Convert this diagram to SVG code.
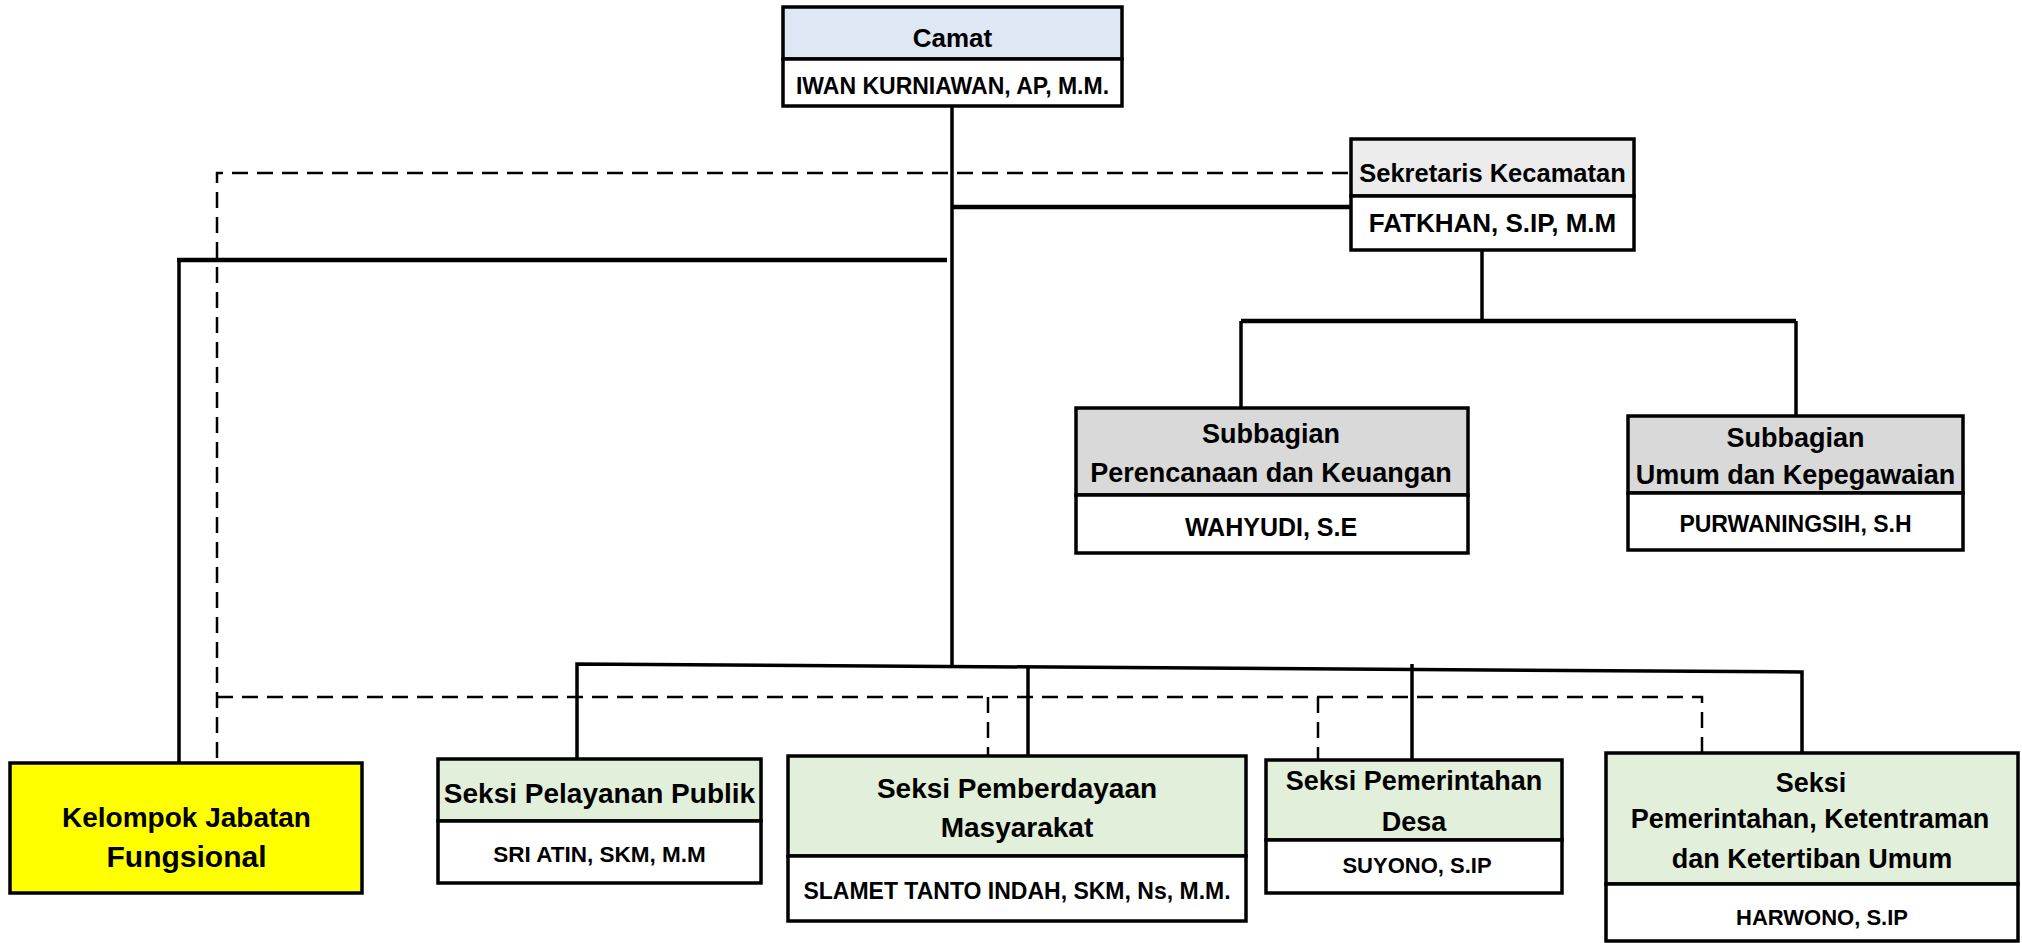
<svg xmlns="http://www.w3.org/2000/svg" width="2022" height="943" viewBox="0 0 2022 943">
<style>
.bx{stroke:#000;stroke-width:3.5}
.wh{fill:#fff}
.blue{fill:#dde8f4}
.lg{fill:#ececec}
.gr{fill:#d9d9d9}
.gn{fill:#e2efda}
.yl{fill:#ffff00}
.ln{fill:none;stroke:#000;stroke-width:3.5}
.th{fill:none;stroke:#000;stroke-width:4.5}
.ds{fill:none;stroke:#000;stroke-width:2.5;stroke-dasharray:16 9}
text{font-family:"Liberation Sans",Arial,sans-serif;font-weight:bold;text-anchor:middle;fill:#000}
</style>
<rect width="2022" height="943" fill="#fff"/>
<g id="connectors">
<path class="ds" d="M217 758 V173 H1350"/>
<path class="ds" d="M217 697 H1702 V752"/>
<path class="ds" d="M988 697 V755"/>
<path class="ds" d="M1318 697 V759"/>
<path class="ln" d="M952 107 V666"/>
<path class="th" d="M952 207 H1350"/>
<path class="th" d="M947 260 H177"/>
<path class="ln" d="M179 258 V767"/>
<path class="ln" d="M1482 251 V321"/>
<path class="th" d="M1241 321 H1796"/>
<path class="ln" d="M1241 321 V407"/>
<path class="ln" d="M1796 321 V415"/>
<path class="ln" d="M577 759 V664 L1802 672 V752"/>
<path class="ln" d="M1028 667 V756"/>
<path class="ln" d="M1412 664 V759"/>
</g>
<g id="camat">
<rect class="bx blue" x="783" y="7" width="339" height="52"/>
<rect class="bx wh" x="783" y="59" width="339" height="47"/>
<text x="952.5" y="47" font-size="26">Camat</text>
<text x="952.5" y="94" font-size="23">IWAN KURNIAWAN, AP, M.M.</text>
</g>
<g id="sekretaris">
<rect class="bx lg" x="1351" y="139" width="283" height="57"/>
<rect class="bx wh" x="1351" y="196" width="283" height="54"/>
<text x="1492.5" y="182" font-size="25.5">Sekretaris Kecamatan</text>
<text x="1492.5" y="232" font-size="26">FATKHAN, S.IP, M.M</text>
</g>
<g id="subbag-perencanaan">
<rect class="bx gr" x="1076" y="408" width="392" height="87"/>
<rect class="bx wh" x="1076" y="495" width="392" height="58"/>
<text x="1271" y="443" font-size="27">Subbagian</text>
<text x="1271" y="482" font-size="27">Perencanaan dan Keuangan</text>
<text x="1271" y="536" font-size="25">WAHYUDI, S.E</text>
</g>
<g id="subbag-umum">
<rect class="bx gr" x="1628" y="416" width="335" height="77"/>
<rect class="bx wh" x="1628" y="493" width="335" height="57"/>
<text x="1795.5" y="447" font-size="27">Subbagian</text>
<text x="1795.5" y="484" font-size="27">Umum dan Kepegawaian</text>
<text x="1795.5" y="532" font-size="23">PURWANINGSIH, S.H</text>
</g>
<g id="kelompok">
<rect class="bx yl" x="10" y="763" width="352" height="130"/>
<text x="186.5" y="827" font-size="28">Kelompok Jabatan</text>
<text x="186.5" y="867" font-size="30">Fungsional</text>
</g>
<g id="seksi-pelayanan">
<rect class="bx gn" x="438" y="759" width="323" height="62"/>
<rect class="bx wh" x="438" y="821" width="323" height="62"/>
<text x="599.5" y="803" font-size="28">Seksi Pelayanan Publik</text>
<text x="599.5" y="862" font-size="22.5">SRI ATIN, SKM, M.M</text>
</g>
<g id="seksi-pemberdayaan">
<rect class="bx gn" x="788" y="756" width="458" height="100"/>
<rect class="bx wh" x="788" y="856" width="458" height="65"/>
<text x="1017" y="798" font-size="28">Seksi Pemberdayaan</text>
<text x="1017" y="837" font-size="28">Masyarakat</text>
<text x="1017" y="899" font-size="23">SLAMET TANTO INDAH, SKM, Ns, M.M.</text>
</g>
<g id="seksi-desa">
<rect class="bx gn" x="1266" y="760" width="296" height="80"/>
<rect class="bx wh" x="1266" y="840" width="296" height="53"/>
<text x="1414" y="790" font-size="27">Seksi Pemerintahan</text>
<text x="1414" y="831" font-size="27">Desa</text>
<text x="1417" y="873" font-size="22">SUYONO, S.IP</text>
</g>
<g id="seksi-ketentraman">
<rect class="bx gn" x="1606" y="753" width="412" height="131"/>
<rect class="bx wh" x="1606" y="884" width="412" height="57"/>
<text x="1811" y="792" font-size="27">Seksi</text>
<text x="1810" y="828" font-size="27">Pemerintahan, Ketentraman</text>
<text x="1812" y="868" font-size="27">dan Ketertiban Umum</text>
<text x="1822" y="925" font-size="22">HARWONO, S.IP</text>
</g>
</svg>
